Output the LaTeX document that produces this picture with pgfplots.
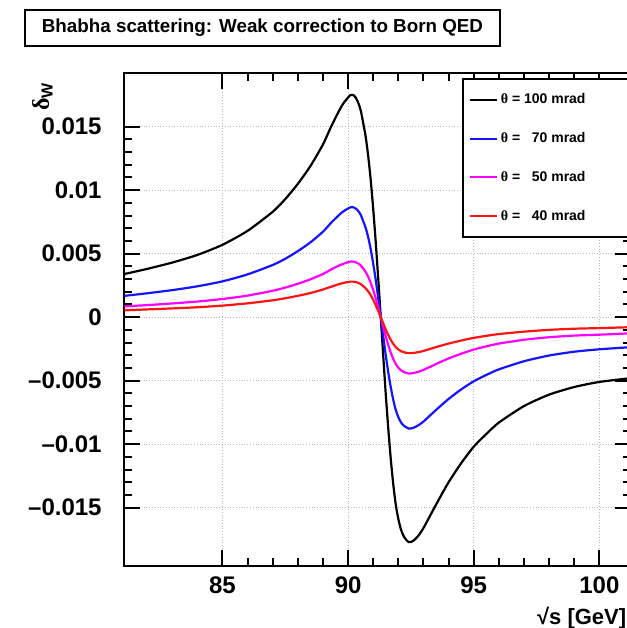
\documentclass[border=0pt]{standalone}
\usepackage{fontspec}
\setmainfont{Liberation Sans}
\newfontfamily\serifgreek{Liberation Serif}
\usepackage{pgfplots}
\pgfplotsset{compat=1.18}
\usepackage{pgfplotstable}
\definecolor{cblue}{RGB}{20,20,255}
\definecolor{cmag}{RGB}{255,0,255}
\definecolor{cred}{RGB}{255,20,20}

\pgfplotstableread{
x b bl m r
81.1 0.0034 0.00168 0.00085 0.00054
82 0.0038 0.00188 0.00095 0.00061
83 0.0043 0.00213 0.00108 0.00069
84 0.0049 0.00243 0.00123 0.00078
85 0.0057 0.00282 0.00143 0.00091
86 0.0068 0.00337 0.00170 0.00109
87 0.0083 0.00411 0.00208 0.00133
87.5 0.0093 0.00460 0.00233 0.00149
88 0.0105 0.00520 0.00263 0.00168
88.5 0.0119 0.00589 0.00298 0.00190
89 0.0136 0.00673 0.00340 0.00218
89.3 0.0149 0.00738 0.00373 0.00238
89.6 0.0161 0.00797 0.00403 0.00258
89.8 0.0168 0.00832 0.00420 0.00269
90.0 0.0173 0.00856 0.00433 0.00277
90.1 0.0175 0.00866 0.00438 0.00280
90.2 0.0175 0.00866 0.00438 0.00280
90.3 0.0173 0.00856 0.00433 0.00277
90.4 0.0169 0.00837 0.00423 0.00270
90.5 0.0163 0.00807 0.00408 0.00261
90.6 0.0153 0.00757 0.00383 0.00245
90.7 0.0142 0.00703 0.00355 0.00227
90.8 0.0127 0.00629 0.00318 0.00203
90.9 0.0108 0.00535 0.00270 0.00173
91.0 0.0085 0.00421 0.00213 0.00136
91.1 0.0059 0.00292 0.00148 0.00094
91.2 0.0030 0.00149 0.00075 0.00048
91.3 0.0 0.0 0.0 0.0
91.4 -0.0031 -0.00153 -0.00078 -0.00050
91.5 -0.0061 -0.00302 -0.00153 -0.00098
91.6 -0.0088 -0.00436 -0.00220 -0.00141
91.7 -0.0112 -0.00554 -0.00280 -0.00179
91.8 -0.0132 -0.00653 -0.00330 -0.00211
91.9 -0.0148 -0.00733 -0.00370 -0.00237
92.0 -0.0159 -0.00787 -0.00398 -0.00254
92.1 -0.0167 -0.00827 -0.00418 -0.00267
92.2 -0.0172 -0.00851 -0.00430 -0.00275
92.3 -0.0175 -0.00866 -0.00438 -0.00280
92.4 -0.0177 -0.00876 -0.00443 -0.00283
92.5 -0.0177 -0.00876 -0.00443 -0.00283
92.6 -0.0176 -0.00871 -0.00440 -0.00282
92.8 -0.0172 -0.00851 -0.00430 -0.00275
93.0 -0.0166 -0.00822 -0.00415 -0.00266
93.3 -0.0155 -0.00767 -0.00388 -0.00248
93.6 -0.0144 -0.00713 -0.00360 -0.00230
94.0 -0.0130 -0.00644 -0.00325 -0.00208
94.5 -0.0115 -0.00569 -0.00288 -0.00184
95.0 -0.0102 -0.00505 -0.00255 -0.00163
95.5 -0.0092 -0.00455 -0.00230 -0.00147
96 -0.0083 -0.00411 -0.00208 -0.00133
97 -0.0070 -0.00347 -0.00178 -0.00114
98 -0.0061 -0.00302 -0.00158 -0.00100
99 -0.0055 -0.00272 -0.00145 -0.00091
100 -0.0051 -0.00253 -0.00138 -0.00086
101.26 -0.0048 -0.00236 -0.00127 -0.00079
}\data

\begin{document}
\begin{tikzpicture}
\begin{axis}[
  at={(0,0)}, anchor=south west,
  scale only axis, width=253.5pt, height=246.5pt,
  xmin=81.08, xmax=101.26, ymin=-0.01957, ymax=0.01925,
  xtick={85,90,95,100}, minor x tick num=4,
  ytick={-0.015,-0.01,-0.005,0,0.005,0.01,0.015},
  yticklabels={\textendash0.015,\textendash0.01,\textendash0.005,0,0.005,0.01,0.015},
  minor y tick num=4,
  scaled y ticks=false,
  grid=major,
  major grid style={densely dotted, gray!55, line width=0.6pt},
  axis line style={line width=1pt},
  major tick length=8pt, minor tick length=4pt,
  every tick/.style={line width=1pt, black},
  /pgf/number format/assume math mode=true,
  ticklabel style={font=\bfseries\fontsize{12}{12}\selectfont},
  xticklabel style={inner sep=0pt, anchor=north, yshift=-5.5pt},
  yticklabel style={inner sep=0pt, anchor=east, xshift=-11pt},
  legend style={at={(rel axis cs:0.6667,0.9892)}, anchor=north west,
    draw=black, line width=0.8pt, fill=white,
    font=\bfseries\fontsize{7}{8}\selectfont,
    inner xsep=3pt, inner ysep=7pt, row sep=12.4pt,
    nodes={inner sep=0pt, text height=5.5pt, text depth=1.5pt},
    cells={anchor=west}},
  legend cell align=left,
  legend image code/.code={\draw[#1, line width=1pt] (0pt,0pt) -- (13.5pt,0pt);},
]
\addplot[black, line width=1.1pt, smooth, tension=0.4] table[x=x, y=b] {\data};
\addlegendentry{\makebox[63pt][l]{\hspace{1.5pt}{\serifgreek θ} = 100 mrad}}
\addplot[cblue, line width=1.1pt, smooth, tension=0.4] table[x=x, y=bl] {\data};
\addlegendentry{\makebox[63pt][l]{\hspace{1.5pt}{\serifgreek θ} = \phantom{1}70 mrad}}
\addplot[cmag, line width=1.1pt, smooth, tension=0.4] table[x=x, y=m] {\data};
\addlegendentry{\makebox[63pt][l]{\hspace{1.5pt}{\serifgreek θ} = \phantom{1}50 mrad}}
\addplot[cred, line width=1.1pt, smooth, tension=0.4] table[x=x, y=r] {\data};
\addlegendentry{\makebox[63pt][l]{\hspace{1.5pt}{\serifgreek θ} = \phantom{1}40 mrad}}
\end{axis}
\node[draw, line width=0.8pt, minimum width=237.5pt, minimum height=18pt, inner sep=0pt,
  font=\bfseries\fontsize{9.4}{10}\selectfont] at (69.25pt,268.85pt)
  {Bhabha scattering: Weak correction to Born QED};
\node[anchor=base east, inner sep=0pt, font=\bfseries\fontsize{11}{12}\selectfont]
  at (251.3pt,-29.5pt) {√s [GeV]};
\node[rotate=90, anchor=south east, inner sep=0pt, font=\bfseries\fontsize{12}{12}\selectfont]
  at (-35.5pt,241.85pt) {{\serifgreek δ}\textsubscript{W}};
\pgfresetboundingbox
\useasboundingbox (-62pt,-31.15pt) rectangle (251.5pt,282.85pt);
\end{tikzpicture}
\end{document}
